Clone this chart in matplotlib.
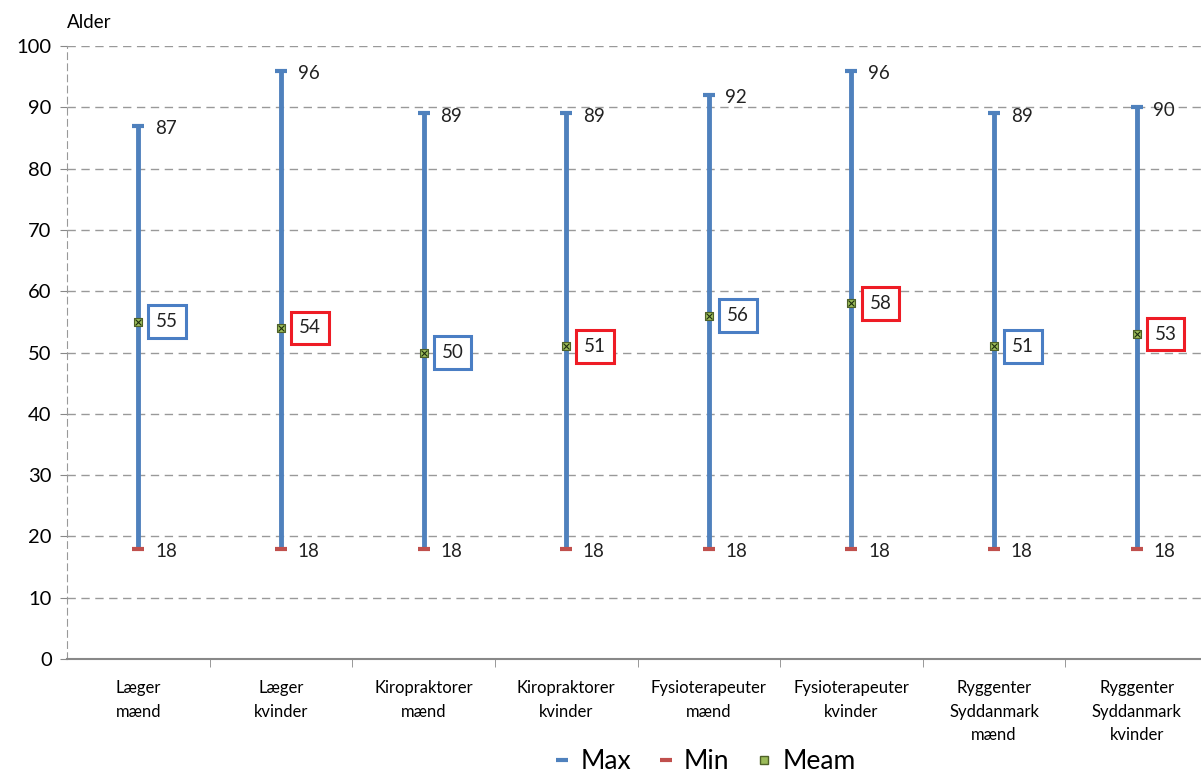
import matplotlib.pyplot as plt
from matplotlib.lines import Line2D

plt.rcParams['font.family'] = ['Lato', 'DejaVu Sans']

categories = ["Læger\nmænd", "Læger\nkvinder", "Kiropraktorer\nmænd", "Kiropraktorer\nkvinder",
              "Fysioterapeuter\nmænd", "Fysioterapeuter\nkvinder", "Ryggenter\nSyddanmark\nmænd",
              "Ryggenter\nSyddanmark\nkvinder"]
max_vals = [87, 96, 89, 89, 92, 96, 89, 90]
min_vals = [18, 18, 18, 18, 18, 18, 18, 18]
mean_vals = [55, 54, 50, 51, 56, 58, 51, 53]

blue = "#4F81BD"
red = "#C0504D"
green = "#9BBB59"
box_blue = "#4A7EC4"
box_red = "#EE1C25"

fig = plt.figure(figsize=(12.01, 7.78), dpi=100)
ax = fig.add_axes([67 / 1201, 1 - 659 / 778, 1141 / 1201, 613 / 778])

x = list(range(len(categories)))
ax.vlines(x, min_vals, max_vals, color=blue, linewidth=3.5, zorder=3)
ax.scatter(x, max_vals, marker="_", s=80, color=blue, linewidths=3, zorder=4)
ax.scatter(x, min_vals, marker="_", s=80, color=red, linewidths=3, zorder=4)
ax.scatter(x, mean_vals, marker="s", s=40, facecolor=green, edgecolor="#4F6228",
           linewidths=0.8, zorder=5)
ax.scatter(x, mean_vals, marker="x", s=18, color="#1F3010", linewidths=0.8, zorder=6)

for i in x:
    ax.annotate(str(max_vals[i]), (i, max_vals[i]), xytext=(12, -2), textcoords="offset points",
                fontsize=13.5, va="center", ha="left", color="#222222")
    ax.annotate(str(min_vals[i]), (i, min_vals[i]), xytext=(12, -2), textcoords="offset points",
                fontsize=13.5, va="center", ha="left", color="#222222")
    box_col = box_blue if i % 2 == 0 else box_red
    ax.annotate(str(mean_vals[i]), (i, mean_vals[i]), xytext=(13, 0), textcoords="offset points",
                fontsize=13.5, va="center", ha="left", color="#222222",
                bbox=dict(boxstyle="square,pad=0.42", facecolor="white", edgecolor=box_col,
                          linewidth=2.2))

ax.set_xlim(-0.5, len(categories) - 0.5)
ax.set_ylim(0, 100)
ax.set_yticks(range(0, 101, 10))
ax.set_xticks(x)
ax.set_xticklabels(categories, fontsize=12, linespacing=1.6)
ax.set_xticks([i + 0.5 for i in x[:-1]], minor=True)
ax.tick_params(axis="x", which="major", length=0, pad=15)
ax.tick_params(axis="x", which="minor", length=6, color="#888888")
ax.tick_params(axis="y", labelsize=14.5, length=5, color="#888888", pad=6)

ax.grid(axis="y", linestyle=(0, (6, 4)), color="#999999", linewidth=1)
ax.set_axisbelow(True)
for side in ["top", "right"]:
    ax.spines[side].set_visible(False)
ax.spines["bottom"].set_color("#888888")
ax.spines["bottom"].set_linewidth(1.5)
ax.spines["left"].set_color("#999999")
ax.spines["left"].set_linestyle((0, (6, 4)))

ax.text(0, 102.5, "Alder", transform=ax.get_yaxis_transform(), fontsize=13.5, ha="left", va="bottom")

handles = [
    Line2D([], [], color=blue, linestyle="none", marker="_", markersize=9, markeredgewidth=3),
    Line2D([], [], color=red, linestyle="none", marker="_", markersize=9, markeredgewidth=3),
    Line2D([], [], linestyle="none", marker="s", markersize=6, markerfacecolor=green,
           markeredgecolor="#4F6228"),
]
fig.legend(handles, ["Max", "Min", "Meam"], loc="lower center", bbox_to_anchor=(0.587, -0.026),
           ncol=3, frameon=False, fontsize=19, handlelength=0.6, handletextpad=0.4, columnspacing=1.0)

fig.savefig("out.png", dpi=100)
